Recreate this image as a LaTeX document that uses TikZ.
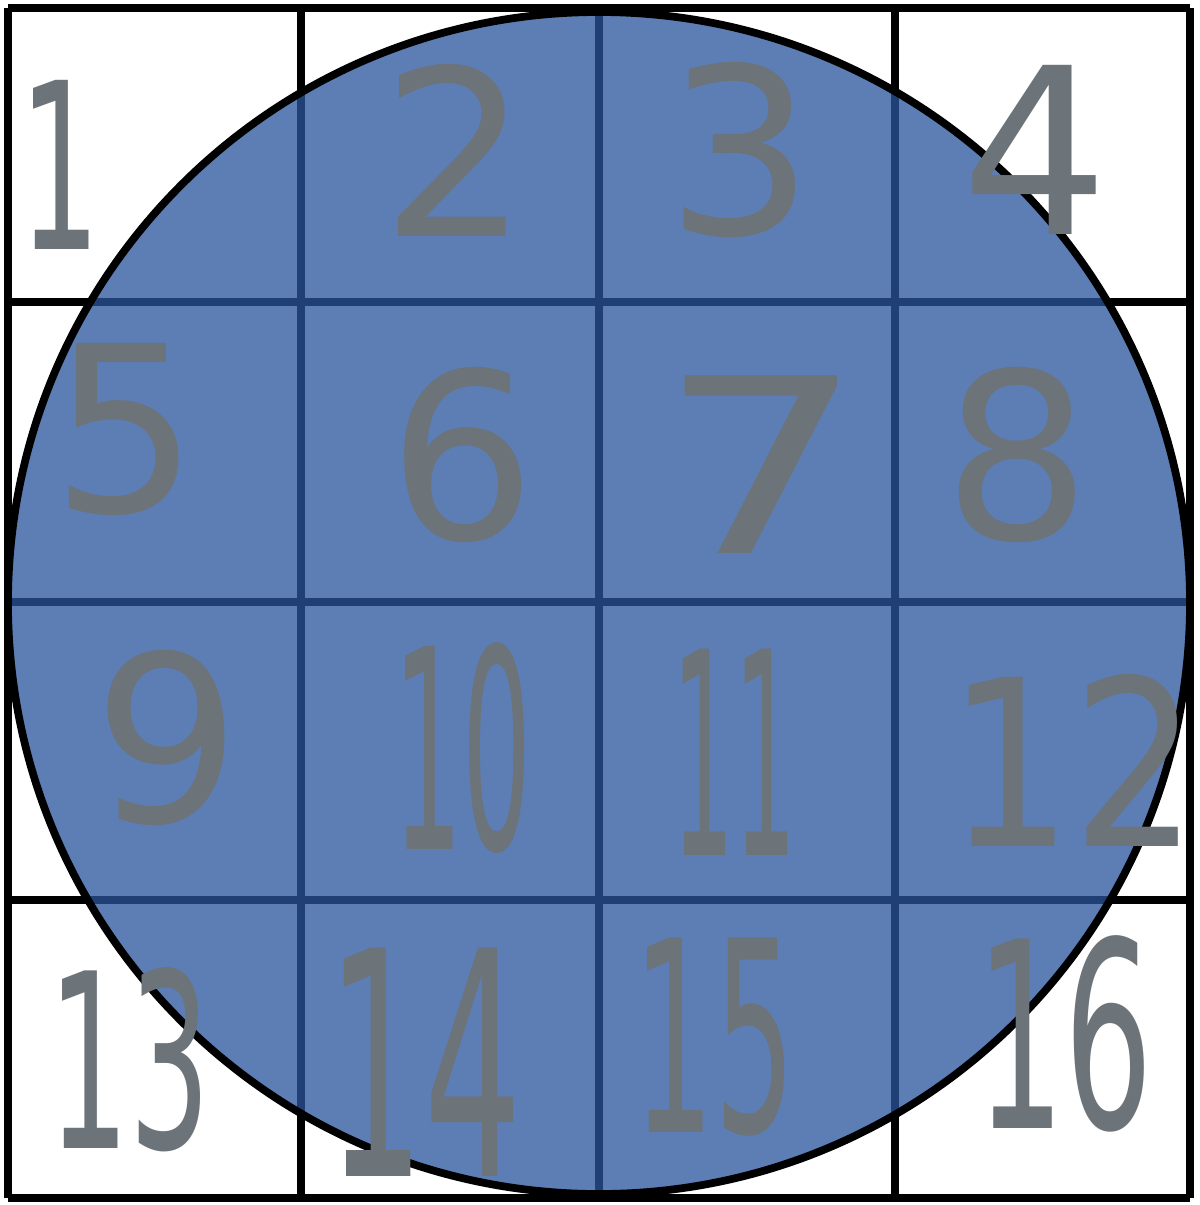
\documentclass[tikz,border=0pt]{standalone}
\usepackage{fontspec}
\setmainfont{DejaVu Sans}
\usepackage{xcolor}
\usepackage{graphicx}
\usetikzlibrary{positioning}
\definecolor{discblue}{HTML}{5D7EB4}
\definecolor{gridblue}{HTML}{1F3F75}
\definecolor{inkgray}{HTML}{6C7379}
\newcommand{\squeeze}[3]{\scalebox{#1}[#2]{#3}}

\begin{document}
\begin{tikzpicture}[
    x=0.01cm, y=-0.01cm,
    gridline/.style={line width=2.2pt},
    digit/.style={text=inkgray, font=\fontsize{66}{66}\selectfont, inner sep=0pt},
]
    \useasboundingbox (0,0) rectangle (1200,1205);
    \fill[white] (0,0) rectangle (1200,1205);

    % Outer grid
    \foreach \x in {8, 301, 599, 895, 1190}
        \draw[gridline, black] (\x, 8) -- (\x, 1198);
    \foreach \y in {8, 302, 602, 900, 1198}
        \draw[gridline, black] (8, \y) -- (1190, \y);

    % Disc
    \fill[discblue] (599, 603) circle (591);
    \begin{scope}
        \clip (599, 603) circle (591);
        \foreach \x in {301, 599, 895}
            \draw[gridline, gridblue] (\x, 8) -- (\x, 1198);
        \foreach \y in {302, 602, 900}
            \draw[gridline, gridblue] (8, \y) -- (1190, \y);
    \end{scope}
    \draw[line width=2.2pt, black] (599, 603) circle (591);

    % Numbers
    \node[digit] (n1) at (60, 165) {\squeeze{0.55}{1}{1}};
    \node[digit] (n2) at (455, 150) {2};
    \node[digit] (n3) at (740, 150) {3};
    \node[digit] (n4) at (1035, 150) {4};
    \node[digit] (n5) at (125, 430) {5};
    \node[digit] (n6) at (462, 455) {6};
    \node[digit] (n7) at (762, 465) {\squeeze{1.4}{1.05}{7}};
    \node[digit] (n8) at (1017, 455) {8};
    \node[digit] (n9) at (167, 738) {9};
    \node[digit] (n10) at (463, 748) {\squeeze{0.47}{1.2}{10}};
    \node[digit] (n11) at (735, 752) {\squeeze{0.42}{1.22}{11}};
    \node[digit] (n12) at (1073, 760) {\squeeze{0.85}{1}{12}};
    \node[digit] (n13) at (130, 1060) {\squeeze{0.55}{1.05}{13}};
    \node[digit] (n14) at (425, 1062) {\squeeze{0.66}{1.35}{14}};
    \node[digit] (n15) at (715, 1037) {\squeeze{0.55}{1.15}{15}};
    \node[digit] (n16) at (1065, 1034) {\squeeze{0.6}{1.12}{16}};
\end{tikzpicture}
\end{document}
